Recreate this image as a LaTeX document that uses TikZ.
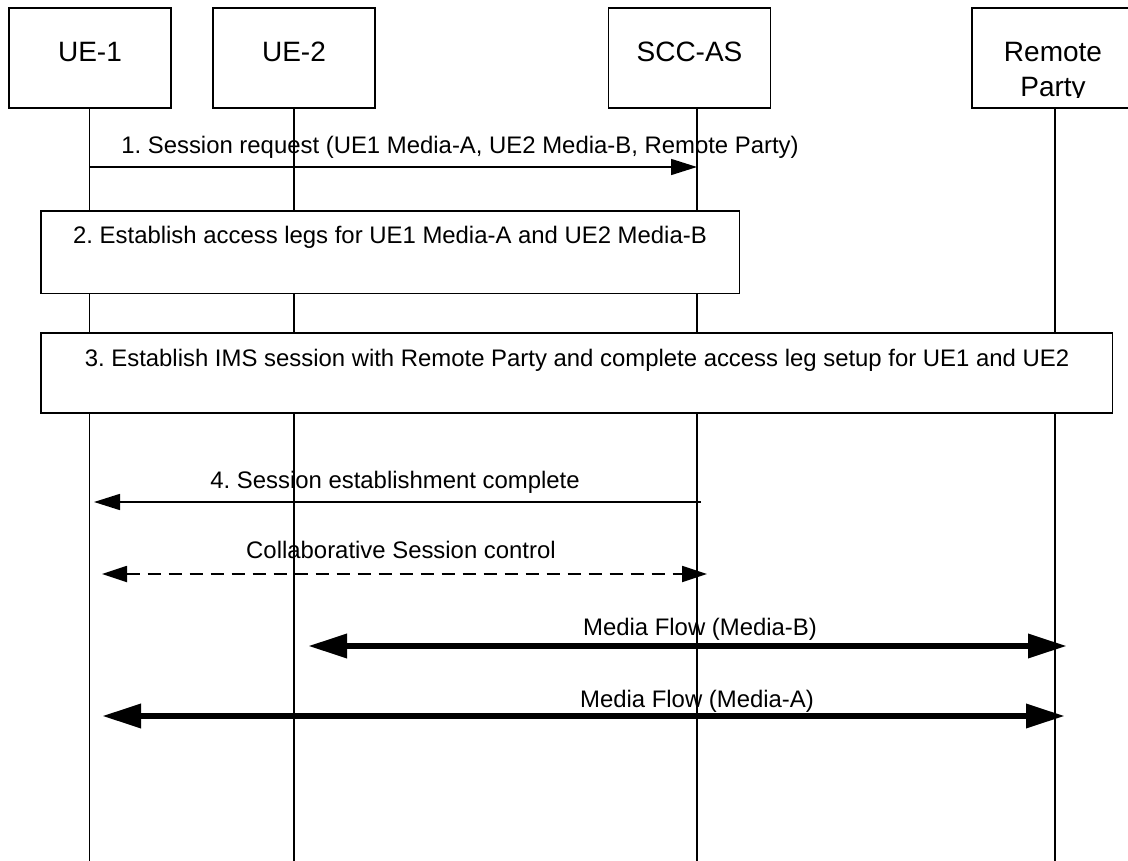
\documentclass[tikz,border=0pt]{standalone}
\usepackage{fontspec}
\setmainfont{Liberation Sans}
\usetikzlibrary{arrows.meta}
\frenchspacing
\begin{document}
\begin{tikzpicture}[x=1pt,y=-1pt,
  box/.style={draw,line width=1.5pt,fill=white,inner sep=0,outer sep=0},
  actor/.style={box,minimum width=162pt,minimum height=100pt},
  lbl/.style={font=\fontsize{28}{34}\selectfont,anchor=base,inner sep=0},
  msg/.style={font=\fontsize{23.9}{28}\selectfont,anchor=base,inner sep=0},
  life/.style={line width=1.5pt},
  thinarrow/.style={line width=1.6pt,-{Triangle[length=26pt,width=16pt]}},
  dasharrow/.style={line width=1.8pt,dash pattern=on 13pt off 8pt,{Triangle[length=25pt,width=16pt]}-{Triangle[length=25pt,width=16pt]}},
  mediaarrow/.style={line width=6.5pt,{Triangle[length=39pt,width=23pt]}-{Triangle[length=39pt,width=23pt]}}
]
\useasboundingbox (0,0) rectangle (1128,861);
\fill[white] (0,0) rectangle (1128,861);

% lifeline ends
\coordinate (l1t) at (89.6,108);   \coordinate (l1b) at (89.6,861);
\coordinate (l2t) at (294,108);    \coordinate (l2b) at (294,861);
\coordinate (l3t) at (697,108);    \coordinate (l3b) at (697,861);
\coordinate (l4t) at (1055,108);   \coordinate (l4b) at (1055,861);

\draw[life] (l1t) -- (l1b);
\draw[life] (l2t) -- (l2b);
\draw[life] (l3t) -- (l3b);
\draw[life] (l4t) -- (l4b);

% actor boxes
\node[actor] (ue1) at (90,58) {};
\node[actor] (ue2) at (294,58) {};
\node[actor] (scc) at (689.5,58) {};
\node[actor] (rp)  at (1053,58) {};
\node[lbl] (ue1t) at (90,62) {UE-1};
\node[lbl] (ue2t) at (294,62) {UE-2};
\node[lbl] (scct) at (689.5,62) {SCC-AS};
\node[lbl] (rpt1) at (1053,62) {Remote};
\begin{scope}
\clip (972,70) rectangle (1128,97.5);
\node[lbl] (rpt2) at (1053,97) {Party};
\end{scope}

% message 1
\coordinate (m1s) at (89.6,167);
\coordinate (m1e) at (697,167);
\draw[thinarrow] (m1s) -- (m1e);
\node[msg] (t1) at (460,154) {1. Session request (UE1 Media-A, UE2 Media-B, Remote Party)};

% step 2
\node[box,minimum width=698.5pt,minimum height=82.7pt] (s2) at (390.25,252.35) {};
\node[msg] (t2) at (390,244) {2. Establish access legs for UE1 Media-A and UE2 Media-B};

% step 3
\node[box,minimum width=1071.5pt,minimum height=80pt] (s3) at (576.75,373) {};
\node[msg] (t3) at (577,366) {3. Establish IMS session with Remote Party and complete access leg setup for UE1 and UE2};

% message 4
\coordinate (m4s) at (701,502);
\coordinate (m4e) at (94,502);
\draw[thinarrow] (m4s) -- (m4e);
\node[msg] (t4) at (395,488) {4. Session establishment complete};

% collaborative session control
\coordinate (c1) at (102,574);
\coordinate (c2) at (707,574);
\draw[dasharrow] (c1) -- (c2);
\node[msg] (tc) at (401,558) {Collaborative Session control};

% media flow B
\coordinate (b1) at (308,646);
\coordinate (b2) at (1067,646);
\draw[mediaarrow] (b1) -- (b2);
\node[msg] (tb) at (700,635) {Media Flow (Media-B)};

% media flow A
\coordinate (a1) at (102,716);
\coordinate (a2) at (1065,716);
\draw[mediaarrow] (a1) -- (a2);
\node[msg] (ta) at (697,707) {Media Flow (Media-A)};
\end{tikzpicture}
\end{document}
